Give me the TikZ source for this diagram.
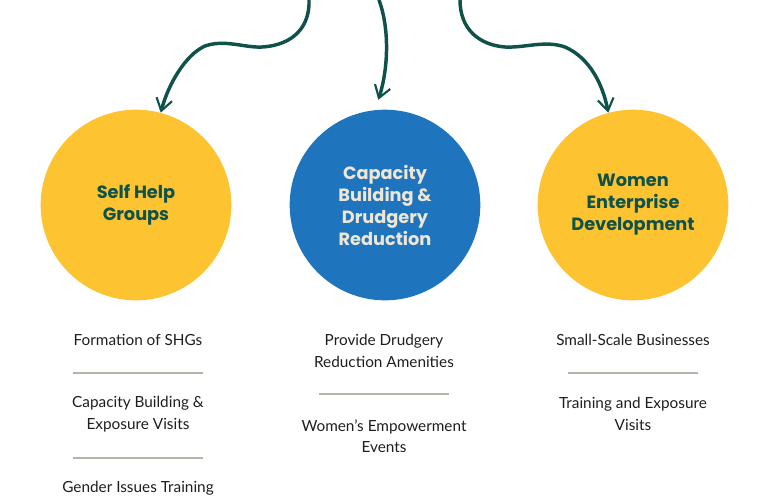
\documentclass[tikz,border=0pt]{standalone}
\usepackage{fontspec}
\setmainfont{Lato}
\newfontfamily\headfont{Poppins}
\usepackage{xcolor}
\usepackage{tikz}
\usetikzlibrary{arrows.meta,positioning}

\definecolor{sunyellow}{HTML}{FDC330}
\definecolor{inkblue}{HTML}{1E75BD}
\definecolor{deepteal}{HTML}{0F524A}
\definecolor{cream}{HTML}{EFE6D6}
\definecolor{rulegray}{HTML}{B8B3A8}
\definecolor{bodyink}{HTML}{1E1E1E}

\begin{document}
\begin{tikzpicture}[
  x=0.75pt, y=0.75pt,
  every node/.style={align=center},
  blob/.style={circle, minimum size=143pt, inner sep=0pt,
    font=\headfont\bfseries\fontsize{13.3}{16.5}\selectfont},
  yellowblob/.style={blob, fill=sunyellow, text=deepteal},
  blueblob/.style={blob, fill=inkblue, text=cream},
  item/.style={font=\fontsize{11.5}{16}\selectfont, text=bodyink},
  rule/.style={rectangle, fill=rulegray, minimum width=97pt, minimum height=1.1pt, inner sep=0pt},
  flow/.style={draw=deepteal, line width=2.6pt, line cap=round,
    -{Straight Barb[length=9pt, width=12pt, line width=1.6pt]}}
]
\useasboundingbox (0,0) rectangle (768,-501);

% CIRCLES
\node[yellowblob] (shg) at (136,-205) {Self Help\\Groups};
\node[blueblob] (cbdr) at (385,-205) {Capacity\\Building \&\\Drudgery\\Reduction};
\node[yellowblob] (wed) at (633,-205) {Women\\Enterprise\\Development};

% ARROWS
\coordinate (srcL) at (309,0);
\coordinate (srcM) at (379,0);
\coordinate (srcR) at (460,0);

\draw[flow] (srcL) .. controls (310,-25) and (295,-45) .. (262,-47)
  .. controls (245,-48) and (225,-39) .. (205,-46)
  .. controls (185,-55) and (168,-85) .. (shg.75);
\draw[flow, shorten >=8pt] (srcM) .. controls (390,-30) and (388,-70) .. (cbdr.96);
\draw[flow] (srcR) .. controls (460,-30) and (480,-45) .. (505,-47)
  .. controls (525,-48) and (545,-40) .. (565,-47)
  .. controls (590,-58) and (603,-85) .. (wed.105);

% SELF HELP GROUPS
\node[item] (shg1) at (138,-340) {Formation of SHGs};
\node[rule] (shgR1) at (138,-373) {};
\node[item] (shg2) at (138,-414) {Capacity Building \&\\Exposure Visits};
\node[rule] (shgR2) at (138,-458) {};
\node[item] (shg3) at (138,-488) {Gender Issues Training};

% CAPACITY BUILDING
\node[item] (cbdr1) at (384,-351) {Provide Drudgery\\Reduction Amenities};
\node[rule] (cbdrR1) at (384,-394) {};
\node[item] (cbdr2) at (384,-436) {Women's Empowerment\\Events};

% WOMEN ENTERPRISE
\node[item] (wed1) at (633,-340) {Small-Scale Businesses};
\node[rule] (wedR1) at (633,-373) {};
\node[item] (wed2) at (633,-414) {Training and Exposure\\Visits};

\end{tikzpicture}
\end{document}
